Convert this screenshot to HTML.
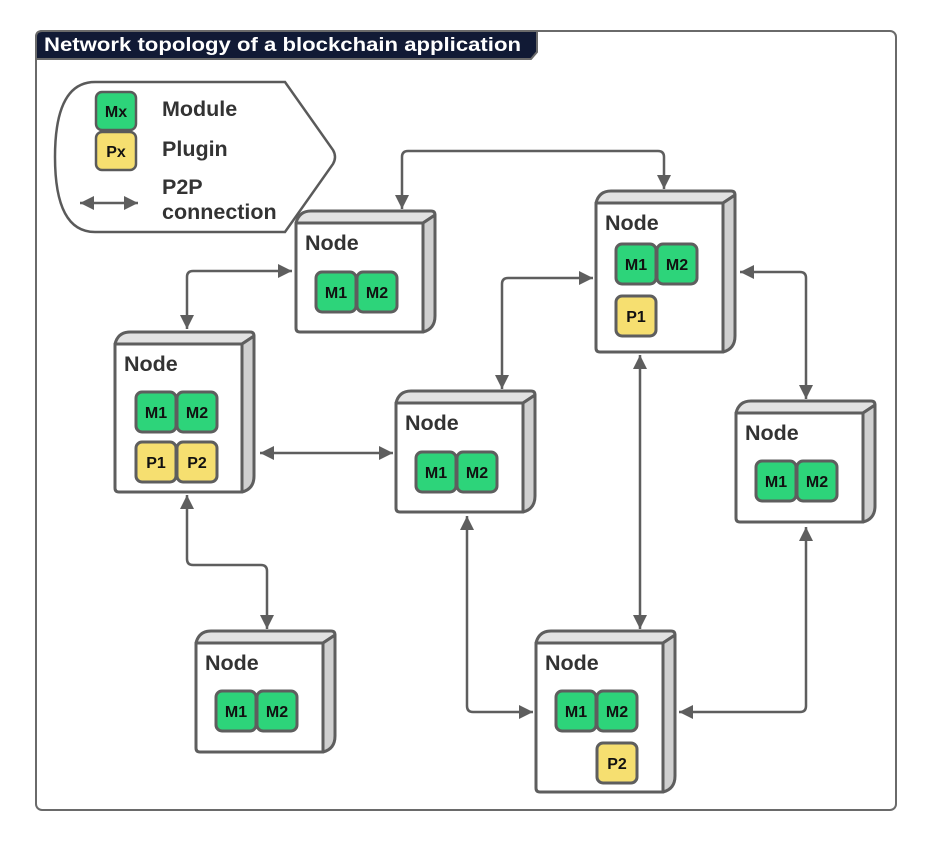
<!DOCTYPE html>
<html><head><meta charset="utf-8"><style>
html,body{margin:0;padding:0;background:#fff}
svg{display:block}
text{font-family:"Liberation Sans",Arial,sans-serif;font-weight:bold}
</style></head><body>
<svg width="929" height="849" viewBox="0 0 929 849" xmlns="http://www.w3.org/2000/svg">
<defs>
<marker id="ab" viewBox="0 0 10 10" markerWidth="16" markerHeight="14" refX="10" refY="5" orient="auto-start-reverse" markerUnits="userSpaceOnUse">
<path d="M0,0 L10,5 L0,10 Z" fill="#5e5e5e"/>
</marker>
</defs>
<rect x="36" y="31" width="860" height="779" rx="6" fill="#fff" stroke="#6a6a6a" stroke-width="2"/>
<path d="M36,37 Q36,31 42,31 L537,31 L537,52 L531,59 L36,59 Z" fill="#111a35" stroke="#6a6a6a" stroke-width="2"/>
<text x="44" y="51" font-size="19" fill="#fff" textLength="477" lengthAdjust="spacingAndGlyphs">Network topology of a blockchain application</text>

<path d="M95,82 L285,82 L333,150 Q337,157 333,164 L285,232 L95,232 Q55,232 55,157 Q55,82 95,82 Z" fill="#fff" stroke="#5a5a5a" stroke-width="2.5"/>
<rect x="96" y="92" width="40" height="38" rx="6" fill="#2dd47a" stroke="#5a5a5a" stroke-width="2.5"/>
<text x="116" y="117" font-size="16" text-anchor="middle" fill="#111">Mx</text>
<rect x="96" y="132" width="40" height="38" rx="6" fill="#f6df70" stroke="#5a5a5a" stroke-width="2.5"/>
<text x="116" y="157" font-size="16" text-anchor="middle" fill="#111">Px</text>
<text x="162" y="116" font-size="21.5" fill="#333">Module</text>
<text x="162" y="156" font-size="21.5" fill="#333">Plugin</text>
<text x="162" y="194" font-size="21.5" fill="#333">P2P</text>
<text x="162" y="219" font-size="21.5" fill="#333">connection</text>
<line x1="80" y1="203" x2="138" y2="203" stroke="#5e5e5e" stroke-width="2.5" marker-start="url(#ab)" marker-end="url(#ab)"/>

<g fill="none" stroke="#5e5e5e" stroke-width="2.5" marker-start="url(#ab)" marker-end="url(#ab)">
<path d="M402,209 L402,157 Q402,151 408,151 L658,151 Q664,151 664,157 L664,189"/>
<path d="M292,271 L193,271 Q187,271 187,277 L187,329"/>
<path d="M260,453 L393,453"/>
<path d="M502,389 L502,284 Q502,278 508,278 L593,278"/>
<path d="M740,272 L800,272 Q806,272 806,278 L806,399"/>
<path d="M640,355 L640,629"/>
<path d="M467,516 L467,706 Q467,712 473,712 L533,712"/>
<path d="M806,527 L806,706 Q806,712 800,712 L679,712"/>
<path d="M187,495 L187,559 Q187,565 193,565 L261,565 Q267,565 267,571 L267,629"/>
</g>

<g id="nodes" stroke="#5e5e5e" stroke-width="3" stroke-linejoin="round"></g>
<g id="mods"></g>
</svg>
<script>
var ns="http://www.w3.org/2000/svg";
var G=document.getElementById("nodes"),M=document.getElementById("mods");
function el(p,t,a){var e=document.createElementNS(ns,t);for(var k in a)e.setAttribute(k,a[k]);p.appendChild(e);return e;}
function node(x,y,h){var w=127,d=12,r=4;
 var f=y+d,b=f+h;
 el(G,"path",{d:"M"+x+","+f+" Q"+(x+3)+","+y+" "+(x+d+3)+","+y+" L"+(x+w+d-r)+","+y+" Q"+(x+w+d)+","+y+" "+(x+w+d)+","+(y+r)+" L"+(x+w)+","+f+" Z",fill:"#e2e2e2"});
 el(G,"path",{d:"M"+(x+w)+","+f+" L"+(x+w+d)+","+(y+r)+" L"+(x+w+d)+","+(b-d-4)+" Q"+(x+w+d)+","+(b-3)+" "+(x+w)+","+b+" Z",fill:"#d0d0d0"});
 el(G,"path",{d:"M"+x+","+f+" L"+(x+w)+","+f+" L"+(x+w)+","+b+" L"+(x+r)+","+b+" Q"+x+","+b+" "+x+","+(b-r)+" Z",fill:"#fff"});
 var t=el(G,"text",{x:x+9,y:f+27,"font-size":21.5,fill:"#333",stroke:"none"});t.textContent="Node";}
function mod(x,y,l,c){el(M,"rect",{x:x,y:y,width:40,height:40,rx:6,fill:c?"#f6df70":"#2dd47a",stroke:"#5e5e5e","stroke-width":3});
 var t=el(M,"text",{x:x+20,y:y+26,"font-size":16,"text-anchor":"middle",fill:"#111"});t.textContent=l;}
node(296,211,109);node(115,332,148);node(396,391,109);node(596,191,149);node(736,401,109);node(196,631,109);node(536,631,149);
function pair(x,y){mod(x,y,"M1");mod(x+41,y,"M2");}
pair(316,272);pair(136,392);mod(136,442,"P1",1);mod(177,442,"P2",1);
pair(416,452);pair(616,244);mod(616,296,"P1",1);pair(756,461);pair(216,691);pair(556,691);mod(597,743,"P2",1);
</script>
</body></html>
